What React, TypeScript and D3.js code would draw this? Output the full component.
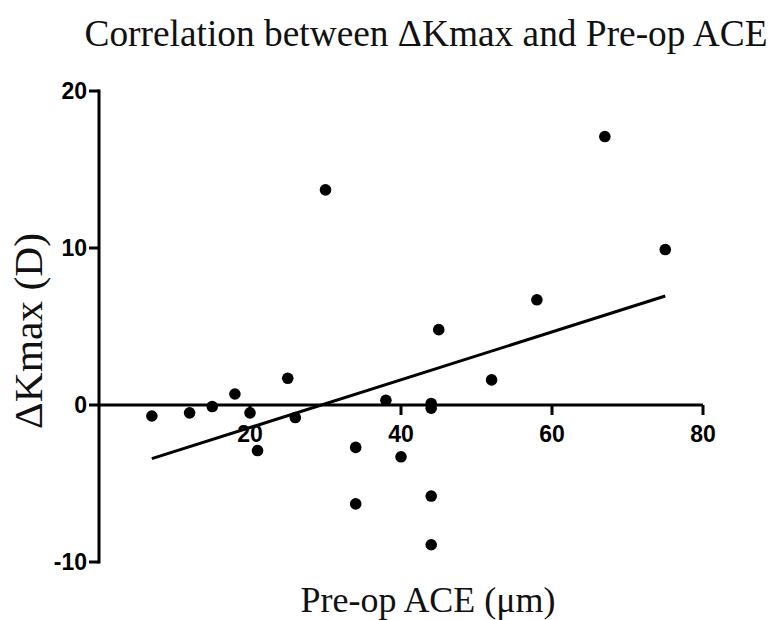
import React from "react";
import * as d3 from "d3";

const aceValues = [7, 12, 15, 18, 20, 21, 25, 26, 30, 34, 34, 38, 40, 44, 44, 44, 44, 45, 52, 58, 67, 75];
const dKmaxValues = [-0.7, -0.5, -0.1, 0.7, -0.5, -2.9, 1.7, -0.8, 13.7, -2.7, -6.3, 0.3, -3.3, 0.1, -0.2, -5.8, -8.9, 4.8, 1.6, 6.7, 17.1, 9.9];
const fitX = [7, 75];
const fitY = [-3.42, 6.94];
const xTicks = [20, 40, 60, 80];
const yTicks = [-10, 0, 10, 20];

const W = 773;
const H = 620;

export default function App() {
  const x = d3.scaleLinear().domain([0, 80]).range([99, 703]);
  const y = d3.scaleLinear().domain([-10, 20]).range([562, 91]);
  const line = d3
    .line<[number, number]>()
    .x((d) => x(d[0]))
    .y((d) => y(d[1]));
  const fitPts: [number, number][] = fitX.map((v, i) => [v, fitY[i]]);
  const tickFont = "'Liberation Sans', Arial, sans-serif";
  const serif = "'Liberation Serif', 'Times New Roman', serif";
  return (
    <svg
      width={W}
      height={H}
      style={{ position: "absolute", left: 0, top: 0, background: "#fff" }}
    >
      <rect width={W} height={H} fill="#fff" />
      <text x={426} y={46} textAnchor="middle" fontFamily={serif} fontSize={37} fill="#111" textLength={683} lengthAdjust="spacingAndGlyphs">
        Correlation between ΔKmax and Pre-op ACE
      </text>
      {/* y axis */}
      <line x1={x(0)} x2={x(0)} y1={y(20)} y2={y(-10)} stroke="#000" strokeWidth={3} strokeLinecap="square" />
      {yTicks.map((t) => (
        <g key={"y" + t}>
          <line x1={x(0) - 10} x2={x(0)} y1={y(t)} y2={y(t)} stroke="#000" strokeWidth={3} />
          <text
            x={x(0) - 12}
            y={y(t)}
            dy="0.36em"
            textAnchor="end"
            fontFamily={tickFont}
            fontWeight="bold"
            fontSize={23}
            fill="#000"
          >
            {t}
          </text>
        </g>
      ))}
      {/* x axis at zero */}
      <line x1={x(0)} x2={x(80)} y1={y(0)} y2={y(0)} stroke="#000" strokeWidth={3} />
      {xTicks.map((t) => (
        <g key={"x" + t}>
          <line x1={x(t)} x2={x(t)} y1={y(0)} y2={y(0) + 10} stroke="#000" strokeWidth={3} />
          <text
            x={x(t)}
            y={y(0) + 37}
            textAnchor="middle"
            fontFamily={tickFont}
            fontWeight="bold"
            fontSize={23}
            fill="#000"
          >
            {t}
          </text>
        </g>
      ))}
      {/* regression line */}
      <path d={line(fitPts) || ""} fill="none" stroke="#000" strokeWidth={3} />
      {/* points */}
      {aceValues.map((v, i) => (
        <circle key={"p" + i} cx={x(v)} cy={y(dKmaxValues[i])} r={5.8} fill="#000" />
      ))}
      {/* axis titles */}
      <text
        transform={`translate(42, 331) rotate(-90)`}
        textAnchor="middle"
        fontFamily={serif}
        fontSize={40}
        fill="#111"
        textLength={196}
        lengthAdjust="spacingAndGlyphs"
      >
        ΔKmax (D)
      </text>
      <text x={428} y={612} textAnchor="middle" fontFamily={serif} fontSize={36} fill="#111" textLength={255} lengthAdjust="spacingAndGlyphs">
        Pre-op ACE (μm)
      </text>
    </svg>
  );
}
